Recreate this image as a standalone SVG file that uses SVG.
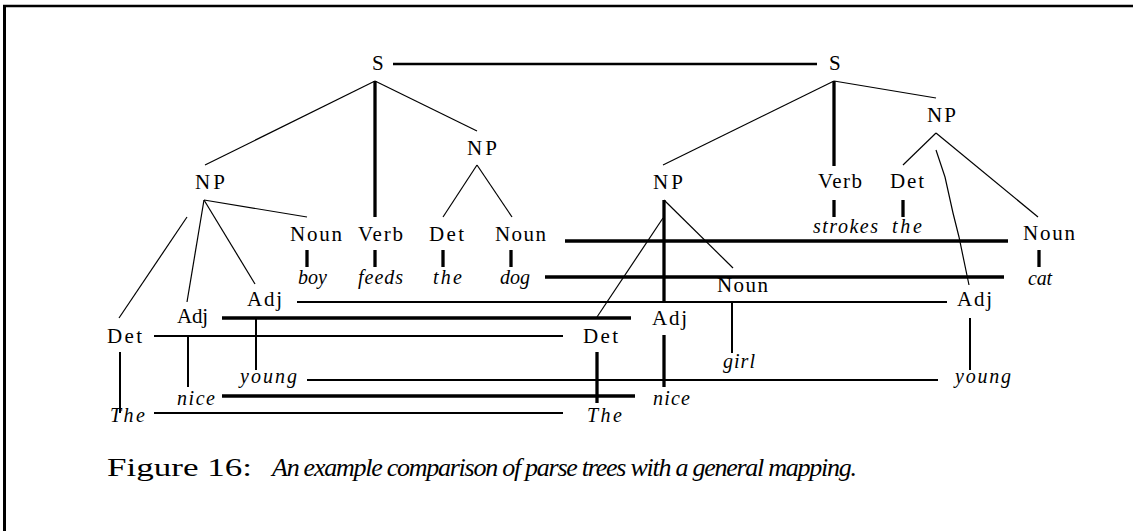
<svg xmlns="http://www.w3.org/2000/svg" width="1133" height="531" viewBox="0 0 1133 531">
<style>
.l{font-family:"Liberation Serif","Times New Roman",serif;font-size:21px;fill:#000}
.w{font-family:"Liberation Serif","Times New Roman",serif;font-size:20px;font-style:italic;fill:#000}
.cap{font-family:"Liberation Serif","Times New Roman",serif;font-size:26px;fill:#000}
.t{stroke:#000;stroke-width:1.2;fill:none}
.m{stroke:#000;stroke-width:2;fill:none}
.k{stroke:#000;stroke-width:3.3;fill:none}
</style>
<rect width="1133" height="531" fill="#fff"/>
<g id="frame">
<line x1="3" y1="6" x2="1133" y2="6" stroke="#000" stroke-width="2.5"/>
<line x1="4.5" y1="5" x2="4.5" y2="531" stroke="#000" stroke-width="3"/>
</g>
<g id="connectors">
<!-- left tree -->
<line class="t" x1="375" y1="81" x2="205" y2="165"/>
<line class="k" x1="375" y1="81" x2="375" y2="217"/>
<line class="t" x1="375" y1="81" x2="477" y2="131"/>
<line class="t" x1="477" y1="165" x2="443" y2="217"/>
<line class="t" x1="477" y1="165" x2="512" y2="217"/>
<line class="t" x1="204" y1="200" x2="307" y2="217"/>
<line class="t" x1="204" y1="200" x2="187" y2="302"/>
<line class="t" x1="204" y1="200" x2="255" y2="284"/>
<line class="t" x1="187" y1="217" x2="119" y2="318"/>
<line class="k" x1="307" y1="250" x2="307" y2="267"/>
<line class="k" x1="375" y1="250" x2="375" y2="267"/>
<line class="k" x1="443" y1="250" x2="443" y2="267"/>
<line class="k" x1="511" y1="250" x2="511" y2="267"/>
<line class="m" x1="256" y1="319" x2="256" y2="370"/>
<line class="m" x1="188" y1="337" x2="188" y2="387"/>
<line class="m" x1="120" y1="352" x2="120" y2="413"/>
<!-- right tree -->
<line class="t" x1="834" y1="81" x2="663" y2="165"/>
<line class="k" x1="834" y1="81" x2="834" y2="166"/>
<line class="t" x1="834" y1="81" x2="936" y2="98"/>
<line class="t" x1="936" y1="133" x2="903" y2="165"/>
<line class="t" x1="936" y1="133" x2="1038" y2="217"/>
<polyline class="t" points="936,150 945,177 953,213 959,237 969,285"/>
<line class="k" x1="664" y1="200" x2="664" y2="301"/>
<line class="t" x1="664" y1="200" x2="733" y2="268"/>
<line class="t" x1="663" y1="218" x2="597" y2="317"/>
<line class="k" x1="834" y1="200" x2="834" y2="217"/>
<line class="k" x1="903" y1="200" x2="903" y2="217"/>
<line class="k" x1="1039" y1="250" x2="1039" y2="267"/>
<line class="k" x1="664" y1="335" x2="664" y2="387"/>
<line class="k" x1="597" y1="352" x2="597" y2="403"/>
<line class="m" x1="732" y1="302" x2="732" y2="353"/>
<line class="m" x1="970" y1="318" x2="970" y2="370"/>
<!-- mappings -->
<line x1="393" y1="64" x2="817" y2="64" stroke="#000" stroke-width="2.5"/>
<line class="k" x1="565" y1="241" x2="1008" y2="241"/>
<line class="k" x1="545" y1="277" x2="1004" y2="277"/>
<line class="m" x1="297" y1="302" x2="947" y2="302"/>
<line class="k" x1="222" y1="318" x2="631" y2="318"/>
<line class="m" x1="154" y1="336" x2="563" y2="336"/>
<line class="m" x1="307" y1="380" x2="938" y2="380"/>
<line class="k" x1="222" y1="396" x2="635" y2="396"/>
<line class="m" x1="154" y1="413" x2="563" y2="413"/>
</g>
<g id="L_S"><text class="l" x="372" y="70" textLength="11">S</text></g>
<g id="L_NP1"><text class="l" x="195" y="189" textLength="30">NP</text></g>
<g id="L_NP2"><text class="l" x="467" y="155" textLength="30">NP</text></g>
<g id="L_Noun1"><text class="l" x="290" y="241" textLength="52">Noun</text></g>
<g id="L_Verb"><text class="l" x="358" y="241" textLength="45">Verb</text></g>
<g id="L_Det2"><text class="l" x="429" y="241" textLength="35">Det</text></g>
<g id="L_Noun2"><text class="l" x="495" y="241" textLength="51">Noun</text></g>
<g id="L_boy"><text class="w" x="298" y="284" textLength="29">boy</text></g>
<g id="L_feeds"><text class="w" x="358" y="284" textLength="45">feeds</text></g>
<g id="L_the"><text class="w" x="433" y="284" textLength="29">the</text></g>
<g id="L_dog"><text class="w" x="500" y="284" textLength="30">dog</text></g>
<g id="L_Adj2"><text class="l" x="247" y="306" textLength="35">Adj</text></g>
<g id="L_Adj1"><text class="l" x="177" y="323" textLength="31">Adj</text></g>
<g id="L_Det1"><text class="l" x="107" y="343" textLength="35">Det</text></g>
<g id="L_young"><text class="w" x="240" y="383" textLength="57">young</text></g>
<g id="L_nice"><text class="w" x="177" y="405" textLength="38">nice</text></g>
<g id="L_The"><text class="w" x="110" y="422" textLength="35">The</text></g>
<g id="R_S"><text class="l" x="829" y="70" textLength="12">S</text></g>
<g id="R_NP1"><text class="l" x="653" y="189" textLength="30">NP</text></g>
<g id="R_Verb"><text class="l" x="818" y="188" textLength="44">Verb</text></g>
<g id="R_Det2"><text class="l" x="890" y="188" textLength="34">Det</text></g>
<g id="R_NP2"><text class="l" x="927" y="122" textLength="29">NP</text></g>
<g id="R_strokes"><text class="w" x="813" y="233" textLength="65">strokes</text></g>
<g id="R_the"><text class="w" x="892" y="233" textLength="30">the</text></g>
<g id="R_Noun2"><text class="l" x="1023" y="240" textLength="52">Noun</text></g>
<g id="R_cat"><text class="w" x="1028" y="285" textLength="24">cat</text></g>
<g id="R_Noun1"><text class="l" x="717" y="292" textLength="51">Noun</text></g>
<g id="R_girl"><text class="w" x="723" y="368" textLength="32">girl</text></g>
<g id="R_Adj1"><text class="l" x="652" y="325" textLength="35">Adj</text></g>
<g id="R_Det1"><text class="l" x="583" y="343" textLength="35">Det</text></g>
<g id="R_nice"><text class="w" x="653" y="405" textLength="37">nice</text></g>
<g id="R_The"><text class="w" x="587" y="422" textLength="35">The</text></g>
<g id="R_Adj2"><text class="l" x="957" y="306" textLength="35">Adj</text></g>
<g id="R_young"><text class="w" x="955" y="383" textLength="56">young</text></g>
<g id="caption">
<text class="cap" x="107" y="476" font-size="28" textLength="145" lengthAdjust="spacingAndGlyphs">Figure 16:</text>
<text class="cap" x="272" y="476" textLength="585" font-style="italic">An example comparison of parse trees with a general mapping.</text>
</g>
</svg>
